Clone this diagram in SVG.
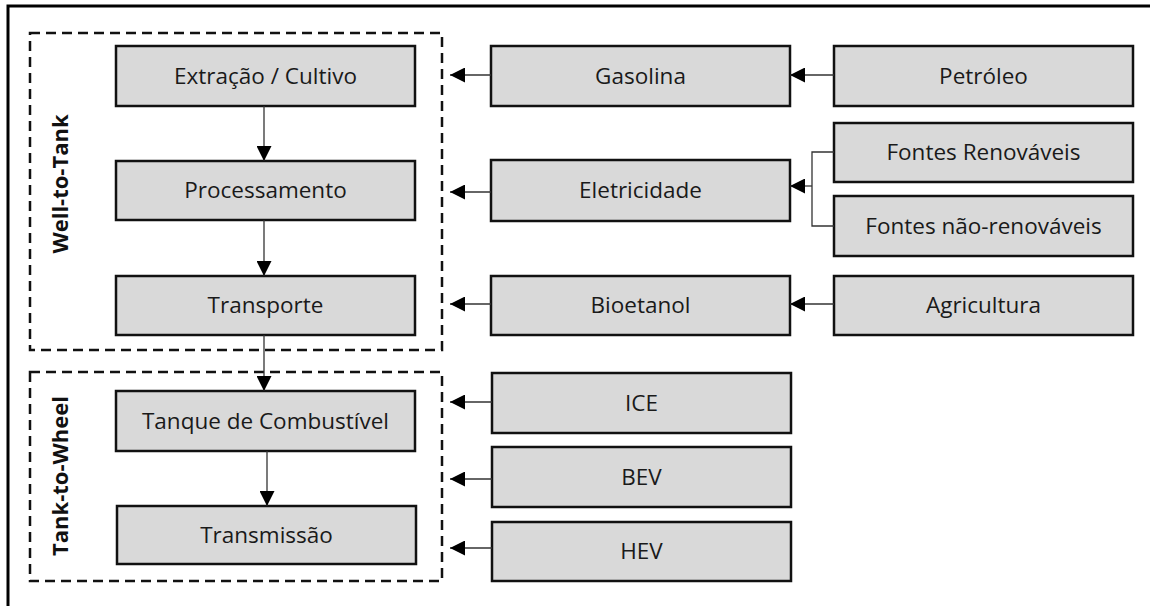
<svg xmlns="http://www.w3.org/2000/svg" width="1153" height="606" viewBox="0 0 1153 606">
  <style>
    .box { fill: #d9d9d9; stroke: #111; stroke-width: 2.5; }
    .lbl { font-family: "Open Sans", "Liberation Sans", sans-serif; font-size: 22.5px; fill: #1a1a1a; text-anchor: middle; }
    .stage { font-family: "Open Sans", "Liberation Sans", sans-serif; font-size: 22px; font-weight: bold; fill: #111; text-anchor: middle; }
    .group { fill: none; stroke: #111; stroke-width: 2.5; stroke-dasharray: 10 6; }
    .link { fill: none; stroke: #333; stroke-width: 1.3; }
    .arrow { stroke: #333; stroke-width: 1.3; fill: none; marker-end: url(#head); }
  </style>
  <defs>
    <marker id="head" viewBox="0 0 15 15" refX="15" refY="7.5" markerWidth="15" markerHeight="15" markerUnits="userSpaceOnUse" orient="auto">
      <path d="M0,0 L15,7.5 L0,15 Z" fill="#000"/>
    </marker>
  </defs>

  <rect width="1153" height="606" fill="#fff"/>
  <!-- frame (top and left edges) -->
  <path d="M1150,6 H8 V606" fill="none" stroke="#000" stroke-width="3"/>

  <!-- lifecycle stages -->
  <g id="well-to-tank">
    <rect class="group" x="30" y="33" width="412" height="317"/>
    <text class="stage" transform="translate(68,184) rotate(-90)">Well-to-Tank</text>
  </g>
  <g id="tank-to-wheel">
    <rect class="group" x="30" y="372" width="412" height="209"/>
    <text class="stage" transform="translate(68,476) rotate(-90)">Tank-to-Wheel</text>
  </g>

  <!-- process chain -->
  <g id="extracao"><rect class="box" x="116" y="46" width="299" height="60"/><text class="lbl" x="265.5" y="84">Extração / Cultivo</text></g>
  <g id="processamento"><rect class="box" x="116" y="161" width="299" height="59"/><text class="lbl" x="265.5" y="198">Processamento</text></g>
  <g id="transporte"><rect class="box" x="116" y="276" width="299" height="59"/><text class="lbl" x="265.5" y="313">Transporte</text></g>
  <g id="tanque"><rect class="box" x="116" y="391" width="299" height="60"/><text class="lbl" x="265.5" y="429">Tanque de Combustível</text></g>
  <g id="transmissao"><rect class="box" x="117" y="506" width="299" height="58"/><text class="lbl" x="266.5" y="543">Transmissão</text></g>

  <!-- energy carriers -->
  <g id="gasolina"><rect class="box" x="491" y="46" width="299" height="60"/><text class="lbl" x="640.5" y="84">Gasolina</text></g>
  <g id="eletricidade"><rect class="box" x="491" y="160" width="299" height="61"/><text class="lbl" x="640.5" y="198">Eletricidade</text></g>
  <g id="bioetanol"><rect class="box" x="491" y="276" width="299" height="59"/><text class="lbl" x="640.5" y="313">Bioetanol</text></g>

  <!-- primary sources -->
  <g id="petroleo"><rect class="box" x="834" y="46" width="299" height="60"/><text class="lbl" x="983.5" y="84">Petróleo</text></g>
  <g id="renovaveis"><rect class="box" x="834" y="123" width="299" height="59"/><text class="lbl" x="983.5" y="160">Fontes Renováveis</text></g>
  <g id="nao-renovaveis"><rect class="box" x="834" y="196" width="299" height="60"/><text class="lbl" x="983.5" y="234">Fontes não-renováveis</text></g>
  <g id="agricultura"><rect class="box" x="834" y="276" width="299" height="59"/><text class="lbl" x="983.5" y="313">Agricultura</text></g>

  <!-- vehicle types -->
  <g id="ice"><rect class="box" x="492" y="373" width="299" height="60"/><text class="lbl" x="641.5" y="411">ICE</text></g>
  <g id="bev"><rect class="box" x="492" y="447" width="299" height="60"/><text class="lbl" x="641.5" y="485">BEV</text></g>
  <g id="hev"><rect class="box" x="492" y="522" width="299" height="59"/><text class="lbl" x="641.5" y="559">HEV</text></g>

  <!-- connectors -->
  <g id="connectors">
    <line class="arrow" x1="264" y1="106" x2="264" y2="161"/>
    <line class="arrow" x1="264" y1="220" x2="264" y2="276"/>
    <line class="arrow" x1="264" y1="335" x2="264" y2="391"/>
    <line class="arrow" x1="267" y1="451" x2="267" y2="506"/>

    <line class="arrow" x1="491" y1="75" x2="450" y2="75"/>
    <line class="arrow" x1="491" y1="192" x2="450" y2="192"/>
    <line class="arrow" x1="491" y1="304" x2="450" y2="304"/>
    <line class="arrow" x1="492" y1="402" x2="450" y2="402"/>
    <line class="arrow" x1="492" y1="479" x2="450" y2="479"/>
    <line class="arrow" x1="492" y1="548" x2="450" y2="548"/>

    <line class="arrow" x1="834" y1="75" x2="790" y2="75"/>
    <line class="arrow" x1="834" y1="304" x2="790" y2="304"/>
    <path class="link" d="M834,152 H812 V226 H834"/>
    <line class="arrow" x1="812" y1="186" x2="790" y2="186"/>
  </g>
</svg>
